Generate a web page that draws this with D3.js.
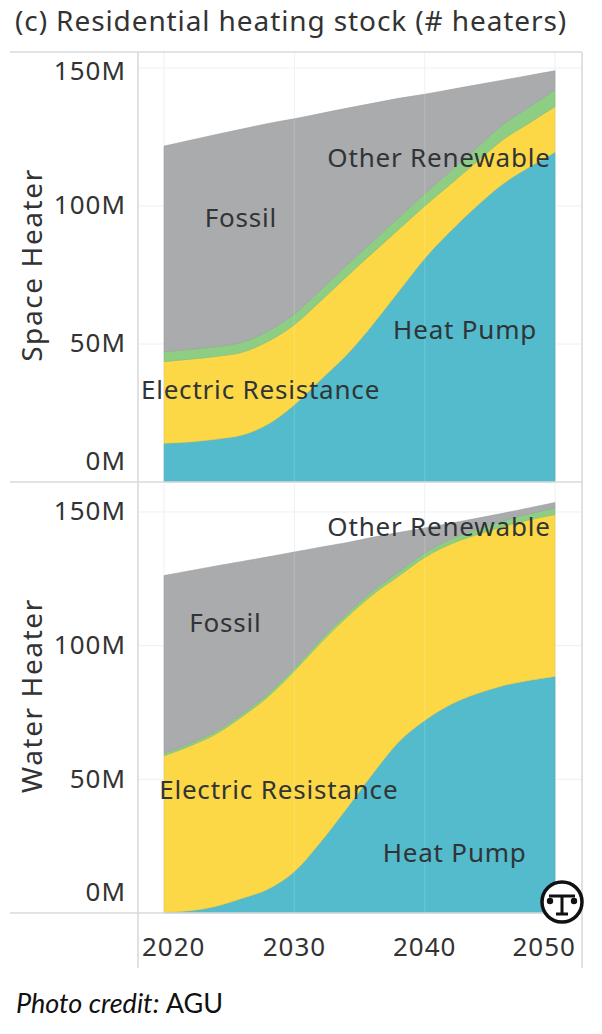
<!DOCTYPE html>
<html>
<head>
<meta charset="utf-8">
<script src="https://cdn.jsdelivr.net/npm/d3@7"></script>
<style>
body { margin: 0; background: #fff; }
text { font-family: "Noto Sans", sans-serif; }
</style>
</head>
<body>
<svg id="chart" width="602" height="1034"></svg>
<script>

// values in millions of heaters
var years = [2020, 2022, 2024, 2026, 2028, 2030, 2032, 2034, 2036, 2038, 2040, 2042, 2044, 2046, 2048, 2050];

var spaceHeatPump = [14, 14.5, 15.5, 17, 21, 28, 37, 46, 57, 69, 81, 91, 100, 108, 114, 119.5];
var spaceElecRes  = [29.6, 30, 30, 30, 30, 29, 28.5, 28.4, 26, 22.5, 19, 17, 16, 16, 16, 16.5];
var spaceOtherRen = [3.6, 3.6, 3.6, 3.7, 3.8, 3.9, 4, 4.1, 4.2, 4.3, 4.5, 4.8, 5.1, 5.5, 5.8, 6.1];
var spaceFossil   = [74.5, 75.7, 76.8, 77.2, 75.1, 70.7, 64, 56.9, 50, 43.2, 36, 29.4, 22.8, 16.1, 11.5, 6.9];

var waterHeatPump = [0.3, 0.8, 2.5, 5.5, 9, 15.5, 26.5, 39, 52, 64, 72, 78, 82, 85, 87, 88.5];
var waterElecRes  = [58.5, 61.7, 64.5, 68, 72, 75, 74.5, 71.5, 67, 62, 61, 60, 59.5, 59.5, 60, 60.5];
var waterOtherRen = [1, 1, 1.1, 1.1, 1.2, 1.2, 1.3, 1.4, 1.5, 1.6, 1.7, 1.9, 2, 2.2, 2.3, 2.5];
var waterFossil   = [66.4, 64.5, 61.7, 56.9, 51, 43.3, 34.5, 26.6, 20, 14.7, 9.3, 5.9, 4.1, 2.8, 2.2, 2];

var seriesKeys = ["Heat Pump", "Electric Resistance", "Other Renewable", "Fossil"];
var xTicks = [2020, 2030, 2040, 2050];
var yTicks = [0, 50, 100, 150];

var color = d3.scaleOrdinal()
    .domain(seriesKeys)
    .range(["#53bbcc", "#fdd846", "#8dcd84", "#a9abad"]);

var svg = d3.select("#chart"),
    left = 138, right = 582;

var x = d3.scaleLinear().domain([2018, 2052.07]).range([left, right]);

function rows(hp, er, or, fo) {
    return years.map(function(yr, i) {
        return { year: yr, "Heat Pump": hp[i], "Electric Resistance": er[i], "Other Renewable": or[i], "Fossil": fo[i] };
    });
}

var panels = [
    { title: "Space Heater", top: 52, bottom: 482, max: 155.8,
      data: rows(spaceHeatPump, spaceElecRes, spaceOtherRen, spaceFossil),
      labels: [
        { text: "Fossil", year: 2025.9, value: 95.7 },
        { text: "Other Renewable", year: 2041.1, value: 117.4 },
        { text: "Electric Resistance", year: 2027.4, value: 33.3 },
        { text: "Heat Pump", year: 2043.1, value: 55.1 }
      ] },
    { title: "Water Heater", top: 482, bottom: 913, max: 161.2,
      data: rows(waterHeatPump, waterElecRes, waterOtherRen, waterFossil),
      labels: [
        { text: "Other Renewable", year: 2041.1, value: 144.4 },
        { text: "Fossil", year: 2024.7, value: 108.5 },
        { text: "Electric Resistance", year: 2028.8, value: 46 },
        { text: "Heat Pump", year: 2042.3, value: 22.4 }
      ] }
];

// title
svg.append("text")
    .attr("x", 15).attr("y", 31)
    .attr("font-size", 28)
    .attr("letter-spacing", 0.9)
    .attr("fill", "#333")
    .text("(c) Residential heating stock (# heaters)");

var stack = d3.stack().keys(seriesKeys);

panels.forEach(function(p) {
    var y = d3.scaleLinear().domain([0, p.max]).range([p.bottom, p.top]);
    var g = svg.append("g");

    // horizontal gridlines
    g.selectAll(".hgrid").data(yTicks.slice(1)).enter().append("line")
        .attr("x1", left).attr("x2", right)
        .attr("y1", function(d) { return y(d); }).attr("y2", function(d) { return y(d); })
        .attr("stroke", "#edf0f3").attr("stroke-width", 1);

    // vertical gridlines
    g.selectAll(".vgrid").data(xTicks).enter().append("line")
        .attr("x1", function(d) { return x(d); }).attr("x2", function(d) { return x(d); })
        .attr("y1", p.top).attr("y2", p.bottom)
        .attr("stroke", "#edf0f3").attr("stroke-width", 1);

    var area = d3.area()
        .curve(d3.curveMonotoneX)
        .x(function(d) { return x(d.data.year); })
        .y0(function(d) { return y(d[0]); })
        .y1(function(d) { return y(d[1]); });

    g.selectAll(".layer").data(stack(p.data)).enter().append("path")
        .attr("d", area)
        .attr("fill", function(d) { return color(d.key); })
        .attr("stroke", function(d) { return d3.color(color(d.key)).darker(0.25); })
        .attr("stroke-width", 0.6);

    // faint gridlines showing through the marks
    g.selectAll(".vgrid2").data(xTicks.slice(1, 3)).enter().append("line")
        .attr("x1", function(d) { return x(d); }).attr("x2", function(d) { return x(d); })
        .attr("y1", p.top).attr("y2", p.bottom)
        .attr("stroke", "#fff").attr("stroke-opacity", 0.12).attr("stroke-width", 1.5);

    // mark labels
    g.selectAll(".lbl").data(p.labels).enter().append("text")
        .attr("x", function(d) { return x(d.year); })
        .attr("y", function(d) { return y(d.value); })
        .attr("dy", "0.35em")
        .attr("text-anchor", "middle")
        .attr("font-size", 26)
        .attr("letter-spacing", 0.8)
        .attr("fill", "#303436")
        .text(function(d) { return d.text; });

    // y axis
    var ax = svg.append("g")
        .attr("transform", "translate(" + (left - 12) + ",0)")
        .call(d3.axisLeft(y).tickValues(yTicks).tickSize(0).tickPadding(0)
            .tickFormat(function(d) { return d + "M"; }));
    ax.select(".domain").remove();
    ax.attr("font-size", 26).attr("font-family", "Noto Sans").attr("fill", "#333");
    ax.selectAll(".tick text").attr("fill", "#333").attr("letter-spacing", 1);
    // keep labels inside the pane
    ax.selectAll(".tick").attr("transform", function(d) {
        var ty = Math.max(p.top + 20, Math.min(p.bottom - 20, y(d)));
        return "translate(0," + ty + ")";
    });

    // row title
    svg.append("text")
        .attr("transform", "translate(32," + ((p.top + p.bottom) / 2 - 2) + ") rotate(-90)")
        .attr("text-anchor", "middle")
        .attr("dy", "0.35em")
        .attr("font-size", 28)
        .attr("letter-spacing", 1.6)
        .attr("fill", "#333")
        .text(p.title);
});

// x axis
var xa = svg.append("g")
    .attr("transform", "translate(0,913)")
    .call(d3.axisBottom(x).tickValues(xTicks).tickSize(0).tickPadding(25).tickFormat(d3.format("d")));
xa.select(".domain").remove();
xa.attr("font-size", 26).attr("font-family", "Noto Sans");
xa.selectAll(".tick text").attr("fill", "#333").attr("letter-spacing", 1);
xa.selectAll(".tick").each(function(d) {
    var t = d3.select(this), w = t.select("text").node().getComputedTextLength();
    var cx = Math.max(left + 4 + w / 2, Math.min(right - 6 - w / 2, x(d)));
    t.attr("transform", "translate(" + cx + ",0)");
});

// frame lines
var frame = [
    [10, 52, right, 52], [10, 482, right, 482], [10, 913, right, 913],
    [left, 52, left, 968], [right, 52, right, 968]
];
svg.selectAll(".frame").data(frame).enter().append("line")
    .attr("x1", function(d) { return d[0]; }).attr("y1", function(d) { return d[1]; })
    .attr("x2", function(d) { return d[2]; }).attr("y2", function(d) { return d[3]; })
    .attr("stroke", "#d9dadb").attr("stroke-width", 1.6);

// logo
var logo = svg.append("g").attr("transform", "translate(562,902)");
logo.append("circle").attr("r", 20).attr("fill", "#fff").attr("stroke", "#111").attr("stroke-width", 3.5);
logo.append("path").attr("d", "M-13,-6 H13 M0,-6 V12 M-6,12 H6")
    .attr("stroke", "#111").attr("stroke-width", 3).attr("fill", "none");
logo.append("circle").attr("cx", -12).attr("cy", -1).attr("r", 3.2).attr("fill", "#111");
logo.append("circle").attr("cx", 12).attr("cy", -1).attr("r", 3.2).attr("fill", "#111");

// credit
var credit = svg.append("text").attr("x", 16).attr("y", 1013).attr("font-size", 27)
    .attr("fill", "#111").style("font-family", "Lato");
credit.append("tspan").attr("font-style", "italic").text("Photo credit: ");
credit.append("tspan").text("AGU");

</script>
</body>
</html>
